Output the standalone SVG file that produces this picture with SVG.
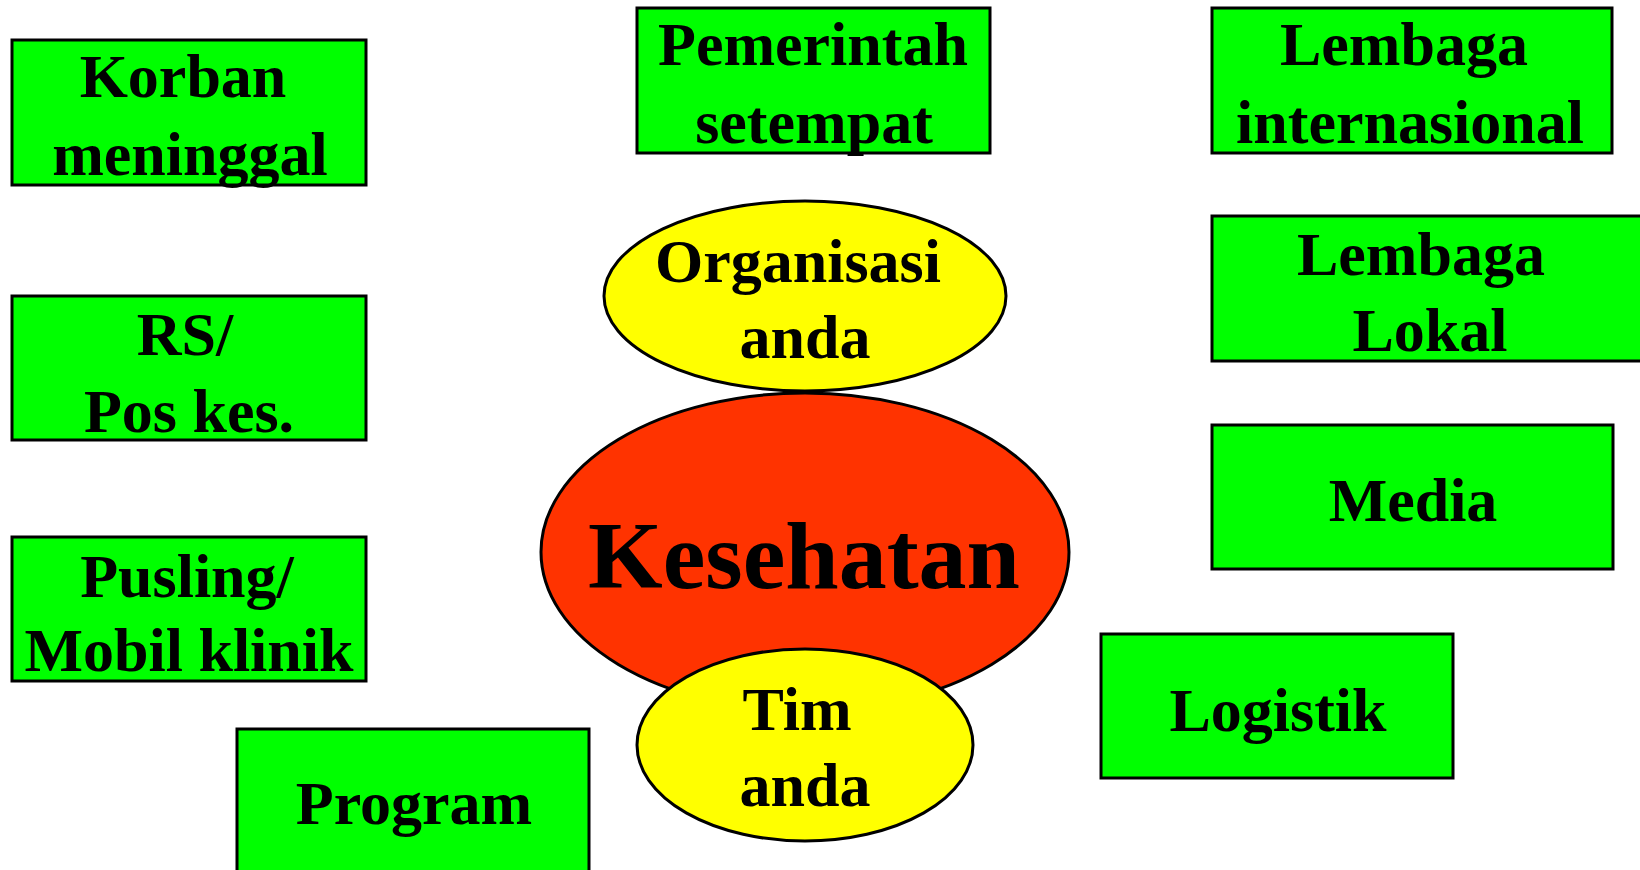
<svg xmlns="http://www.w3.org/2000/svg" width="1640" height="870" viewBox="0 0 1640 870">
<style>
.box{fill:#00FF00;stroke:#000;stroke-width:3}
.oval{fill:#FFFF00;stroke:#000;stroke-width:3}
.core{fill:#FF3300;stroke:#000;stroke-width:3}
text{font-family:"Liberation Serif","Times New Roman",serif;font-weight:bold;font-size:62px;fill:#000;text-anchor:middle}
.big{font-size:96px}
</style>
<rect width="1640" height="870" fill="#fff"/>
<g id="connectors"></g>
<g id="korban"><rect class="box" x="12" y="40" width="354" height="145"/><text x="183" y="97">Korban</text><text x="190" y="175">meninggal</text></g>
<g id="pemerintah"><rect class="box" x="637" y="8" width="353" height="145"/><text x="813" y="65">Pemerintah</text><text x="814" y="143">setempat</text></g>
<g id="lembaga-internasional"><rect class="box" x="1212" y="8" width="400" height="145"/><text x="1404" y="65">Lembaga</text><text x="1410" y="143">internasional</text></g>
<g id="lembaga-lokal"><rect class="box" x="1212" y="216" width="440" height="145"/><text x="1421" y="275">Lembaga</text><text x="1430" y="351">Lokal</text></g>
<g id="rs"><rect class="box" x="12" y="296" width="354" height="144"/><text x="185" y="355">RS/</text><text x="189" y="432">Pos kes.</text></g>
<g id="media"><rect class="box" x="1212" y="425" width="401" height="144"/><text x="1413" y="521">Media</text></g>
<g id="pusling"><rect class="box" x="12" y="537" width="354" height="144"/><text x="187" y="597">Pusling/</text><text x="189" y="671">Mobil klinik</text></g>
<g id="logistik"><rect class="box" x="1101" y="634" width="352" height="144"/><text x="1278" y="731">Logistik</text></g>
<g id="program"><rect class="box" x="237" y="729" width="352" height="160"/><text x="414" y="824">Program</text></g>
<g id="kesehatan"><ellipse class="core" cx="805" cy="552" rx="264" ry="159"/><text class="big" x="804" y="588">Kesehatan</text></g>
<g id="organisasi"><ellipse class="oval" cx="805" cy="296" rx="201" ry="95"/><text x="798" y="282">Organisasi</text><text x="805" y="358">anda</text></g>
<g id="tim"><ellipse class="oval" cx="805" cy="745" rx="168" ry="96"/><text x="797" y="730">Tim</text><text x="805" y="806">anda</text></g>
</svg>
